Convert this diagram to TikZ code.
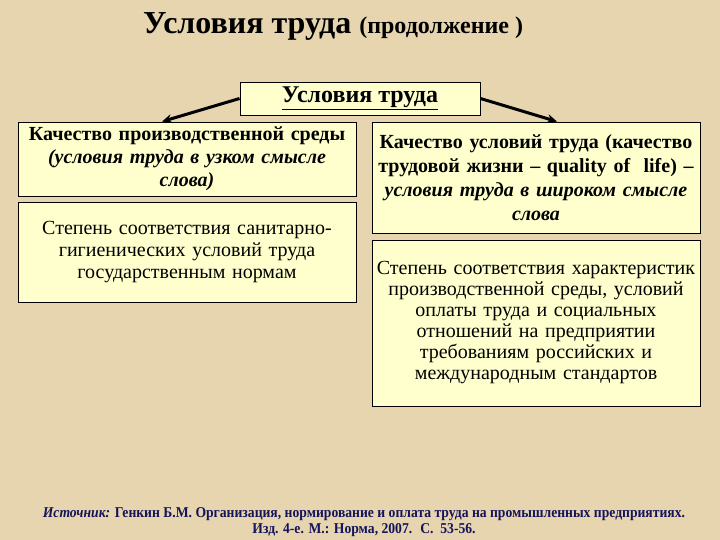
\documentclass[tikz,border=0pt]{standalone}
\usepackage{fontspec}
\setmainfont{Liberation Serif}
\usetikzlibrary{arrows.meta}
\definecolor{parch}{RGB}{231,213,176}
\definecolor{boxfill}{RGB}{255,255,206}
\definecolor{navy}{RGB}{20,20,90}
\tikzset{
  card/.style={draw=black, line width=0.9pt, fill=boxfill, inner sep=0pt, align=center},
  link/.style={line width=3pt, -{Stealth[length=10pt,width=9pt]}},
}
\begin{document}
\begin{tikzpicture}[x=1pt,y=-1pt]
\fill[parch] (0,0) rectangle (720,540);
\useasboundingbox (0,0) rectangle (720,540);
% title
\node[anchor=base west, inner sep=0pt, font=\bfseries] (title) at (143,34)
  {\fontsize{32}{34}\selectfont Условия труда \fontsize{24}{26}\selectfont(продолжение )};
% top box
\node[card, minimum width=240pt, minimum height=33pt, font=\fontsize{24}{26}\selectfont\bfseries] (top) at (360,98.5)
  {\underline{Условия труда}};
% left boxes
\node[card, minimum width=338pt, minimum height=74pt, text width=334pt, font=\fontsize{20}{23}\selectfont\bfseries] (l1) at (187,159)
  {Качество производственной среды\\
   \itshape (условия труда в узком смысле\\ слова)};
\node[card, minimum width=338pt, minimum height=100pt, text width=334pt, font=\fontsize{20}{22}\selectfont] (l2) at (187,252)
  {Степень соответствия санитарно-\\гигиенических условий труда\\государственным нормам};
% right boxes
\node[card, minimum width=328pt, minimum height=111pt, text width=324pt, font=\fontsize{20}{24}\selectfont\bfseries] (r1) at (536,177.5)
  {Качество условий труда (качество\\
   трудовой жизни -- quality of~ life) --\\
   \itshape условия труда в широком смысле\\ слова};
\node[card, minimum width=328pt, minimum height=166pt, text width=324pt, font=\fontsize{20}{21}\selectfont] (r2) at (536,323)
  {Степень соответствия характеристик\\производственной среды, условий\\оплаты труда и социальных\\отношений на предприятии\\требованиям российских и\\международным стандартов};
% arrows
\draw[link] (top.west) -- (l1.north -| 162,0);
\draw[link] (top.east) -- (r1.north -| 557,0);
% footer
\node[align=center, text=navy, inner sep=0pt, font=\fontsize{15}{16}\selectfont\bfseries\addfontfeature{FakeStretch=0.91}] (src) at (364,522)
  {\textit{Источник:} Генкин Б.М. Организация, нормирование и оплата труда на промышленных предприятиях.\\
   Изд. 4-е. М.: Норма, 2007.~ С.~ 53-56.};
\end{tikzpicture}
\end{document}
